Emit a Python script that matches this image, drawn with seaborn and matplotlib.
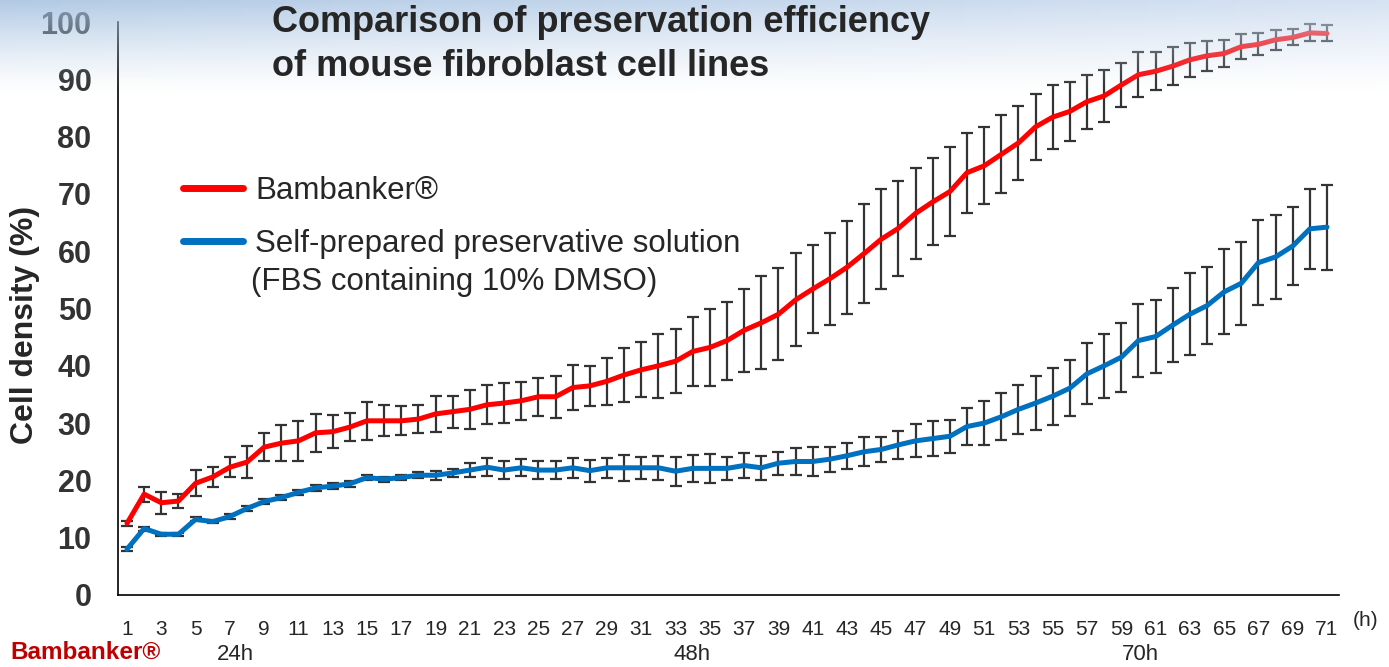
import numpy as np
import pandas as pd
import matplotlib
matplotlib.use("Agg")
import matplotlib.pyplot as plt
import seaborn as sns

hours = list(range(1, 72))
bambanker = [12.5, 17.6, 16.1, 16.4, 19.5, 20.6, 22.3, 23.2, 25.8, 26.5,
             26.9, 28.3, 28.5, 29.3, 30.4, 30.4, 30.4, 30.7, 31.6, 32.0,
             32.4, 33.2, 33.5, 33.9, 34.6, 34.6, 36.2, 36.5, 37.3, 38.4,
             39.3, 40.0, 40.8, 42.5, 43.2, 44.4, 46.2, 47.5, 49.0, 51.5,
             53.4, 55.2, 57.2, 59.6, 62.1, 64.0, 66.6, 68.6, 70.4, 73.7,
             74.9, 76.9, 78.9, 81.7, 83.4, 84.4, 86.1, 87.1, 89.0, 90.8,
             91.4, 92.3, 93.4, 94.1, 94.5, 95.7, 96.1, 96.9, 97.3, 98.1,
             98.0]
bambanker_err = [0.5, 1.3, 1.9, 1.3, 2.3, 1.7, 1.7, 2.8, 2.5, 3.1,
                 3.5, 3.3, 2.9, 2.4, 3.3, 2.7, 2.5, 2.5, 3.2, 2.8,
                 3.4, 3.4, 3.5, 3.3, 3.3, 3.7, 3.9, 3.5, 4.1, 4.7,
                 4.8, 5.6, 5.6, 6.0, 6.8, 6.8, 7.2, 8.1, 8.0, 8.1,
                 7.7, 8.0, 8.1, 8.7, 8.7, 8.3, 7.9, 7.6, 7.8, 7.0,
                 6.7, 6.8, 6.4, 5.7, 5.6, 5.1, 4.7, 4.5, 3.8, 3.9,
                 3.3, 3.3, 3.0, 2.6, 2.3, 2.2, 1.9, 1.7, 1.4, 1.5,
                 1.4]
selfprep = [8.0, 11.6, 10.6, 10.6, 13.2, 12.8, 13.7, 15.1, 16.3, 17.0,
            17.9, 18.7, 19.0, 19.4, 20.5, 20.2, 20.5, 20.9, 20.9, 21.3,
            21.8, 22.3, 21.8, 22.2, 21.8, 21.8, 22.2, 21.7, 22.2, 22.2,
            22.2, 22.2, 21.6, 22.1, 22.1, 22.1, 22.6, 22.2, 23.0, 23.3,
            23.3, 23.7, 24.3, 25.0, 25.4, 26.2, 26.9, 27.3, 27.7, 29.4,
            30.0, 31.1, 32.4, 33.5, 34.7, 36.1, 38.6, 40.0, 41.5, 44.4,
            45.1, 47.1, 49.0, 50.5, 52.9, 54.4, 58.0, 59.0, 60.9, 63.9,
            64.2]
selfprep_err = [0.4, 0.35, 0.3, 0.3, 0.35, 0.3, 0.4, 0.4, 0.5, 0.5,
                0.5, 0.5, 0.5, 0.5, 0.4, 0.4, 0.5, 0.55, 0.8, 0.7,
                1.2, 1.6, 1.6, 1.5, 1.6, 1.5, 1.7, 1.9, 1.7, 2.3,
                1.9, 2.1, 2.5, 2.3, 2.5, 2.0, 2.1, 2.1, 2.0, 2.3,
                2.5, 2.2, 2.3, 2.5, 2.2, 2.5, 2.9, 3.1, 2.9, 3.3,
                3.9, 4.1, 4.3, 4.7, 5.0, 4.9, 5.3, 5.6, 6.0, 6.3,
                6.3, 6.4, 7.2, 6.7, 7.4, 7.2, 7.4, 7.4, 6.8, 7.0,
                7.4]
yticks = [0, 10, 20, 30, 40, 50, 60, 70, 80, 90, 100]
xticks = list(range(1, 72, 2))

sns.set_style("white")
plt.rcParams["font.family"] = ["Liberation Sans", "DejaVu Sans"]

W, H = 1389, 667
fig = plt.figure(figsize=(W / 100, H / 100), dpi=100)
ax = fig.add_axes([118 / W, 1 - 595 / H, (1339 - 118) / W, (595 - 22) / H])

ax.errorbar(hours, bambanker, yerr=bambanker_err, fmt="none", ecolor="#333333",
            elinewidth=1.6, capsize=4, capthick=1.6, zorder=2)
ax.errorbar(hours, selfprep, yerr=selfprep_err, fmt="none", ecolor="#333333",
            elinewidth=1.6, capsize=4, capthick=1.6, zorder=2)

df = pd.DataFrame({"h": hours, "bam": bambanker, "self": selfprep})
sns.lineplot(data=df, x="h", y="bam", color="#ff0000", linewidth=3.6, ax=ax,
             label="Bambanker®", zorder=3)
sns.lineplot(data=df, x="h", y="self", color="#0070c0", linewidth=3.6, ax=ax,
             label="Self-prepared preservative solution", zorder=3)

ax.set_xlim(1 - 9 / 17.14, 71 + 12 / 17.14)
ax.set_ylim(0, 100)
ax.set_xticks(xticks)
ax.set_yticks(yticks)
ax.set_xticklabels([str(x) for x in xticks], fontsize=15)
ax.set_yticklabels([str(y) for y in yticks], fontsize=22,
                   fontweight="bold", color="#333333")
ax.tick_params(axis="x", length=0, pad=18)
ax.tick_params(axis="y", length=0, pad=19)
ax.set_xlabel("")
ax.set_ylabel("Cell density (%)", fontsize=23, fontweight="bold")
ax.yaxis.set_label_coords((40 - 118) / 1221, (595 - 325) / 573)
for s in ["top", "right"]:
    ax.spines[s].set_visible(False)
for s in ["left", "bottom"]:
    ax.spines[s].set_color("black")
    ax.spines[s].set_linewidth(1.2)

leg = ax.legend(loc="upper left", bbox_to_anchor=((183 - 118) / 1221, (595 - 176) / 573),
                frameon=False, fontsize=22.5, handlelength=1.92, handletextpad=0.38,
                labelspacing=0.74, borderpad=0, borderaxespad=0)
for line in leg.get_lines():
    line.set_linewidth(5)
fig.text(251 / W, 1 - 282 / H, "(FBS containing 10% DMSO)", fontsize=22.5,
         va="center", ha="left")

# light blue banner across the top, faded over the chart
h, w = 100, 400
grad = np.zeros((h, w, 4))
col_left = np.array([0.62, 0.74, 0.87])
col_right = np.array([0.80, 0.86, 0.94])
xs = np.linspace(0, 1, w)
for i in range(3):
    grad[:, :, i] = col_left[i] + (col_right[i] - col_left[i]) * xs[None, :]
alpha = np.clip(1 - np.linspace(0, 1, h), 0, 1) ** 1.3 * 0.8
grad[:, :, 3] = alpha[:, None]
bg = fig.add_axes([0, 1 - 95 / H, 1, 95 / H], zorder=5)
bg.imshow(grad, aspect="auto", extent=[0, 1, 0, 1], origin="upper")
bg.axis("off")

fig.text(272 / W, 1 - 5 / H,
         "Comparison of preservation efficiency\nof mouse fibroblast cell lines",
         fontsize=26, fontweight="bold", va="top", ha="left", linespacing=1.32,
         zorder=10)

fig.text(1366 / W, 1 - 620 / H, "(h)", fontsize=15, ha="center", va="center")
fig.text(10 / W, 1 - 652 / H, "Bambanker®", fontsize=17.5, fontweight="bold",
         color="#c00000", ha="left", va="center")
for label, xpix in [("24h", 235), ("48h", 692), ("70h", 1140)]:
    fig.text(xpix / W, 1 - 655 / H, label, fontsize=16, ha="center", va="center")

fig.savefig("out.png", dpi=100)
plt.close(fig)
